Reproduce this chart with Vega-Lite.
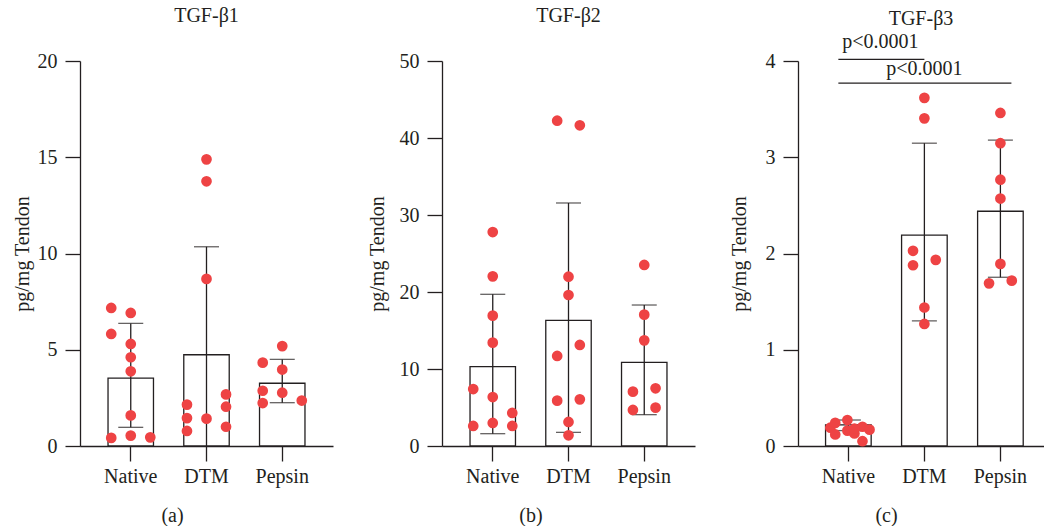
{
  "$schema": "https://vega.github.io/schema/vega-lite/v6.json",
  "background": "white",
  "padding": {"left": 12, "top": 6, "right": 0, "bottom": 0},
  "spacing": 34,
  "config": {
    "font": "Liberation Serif",
    "view": {"stroke": null},
    "axis": {
      "domainColor": "#231f20", "tickColor": "#231f20", "labelColor": "#231f20", "titleColor": "#231f20",
      "labelFont": "Liberation Serif", "titleFont": "Liberation Serif",
      "labelFontSize": 20, "titleFontSize": 20, "titleFontWeight": "normal",
      "tickSize": 15, "domainWidth": 1.3, "tickWidth": 1.3, "grid": false
    },
    "title": {"font": "Liberation Serif", "fontSize": 20, "fontWeight": "normal", "color": "#231f20"}
  },
  "datasets": {
    "summary": [
      {"panel": "a", "group": "Native", "mean": 3.53, "lo": 0.97, "hi": 6.37},
      {"panel": "a", "group": "DTM", "mean": 4.74, "lo": -0.87, "hi": 10.35},
      {"panel": "a", "group": "Pepsin", "mean": 3.26, "lo": 2.25, "hi": 4.5},
      {"panel": "b", "group": "Native", "mean": 10.3, "lo": 1.6, "hi": 19.7},
      {"panel": "b", "group": "DTM", "mean": 16.32, "lo": 1.77, "hi": 31.56},
      {"panel": "b", "group": "Pepsin", "mean": 10.87, "lo": 4.07, "hi": 18.31},
      {"panel": "c", "group": "Native", "mean": 0.22, "lo": 0.16, "hi": 0.27},
      {"panel": "c", "group": "DTM", "mean": 2.19, "lo": 1.3, "hi": 3.146},
      {"panel": "c", "group": "Pepsin", "mean": 2.439, "lo": 1.753, "hi": 3.178}
    ],
    "points": [
      {"panel": "a", "group": "Native", "jitter": -1, "value": 7.17},
      {"panel": "a", "group": "Native", "jitter": 0, "value": 6.91},
      {"panel": "a", "group": "Native", "jitter": -1, "value": 5.82},
      {"panel": "a", "group": "Native", "jitter": 0, "value": 5.3},
      {"panel": "a", "group": "Native", "jitter": 0, "value": 4.61},
      {"panel": "a", "group": "Native", "jitter": 0, "value": 3.88},
      {"panel": "a", "group": "Native", "jitter": 0, "value": 1.59},
      {"panel": "a", "group": "Native", "jitter": -1, "value": 0.42},
      {"panel": "a", "group": "Native", "jitter": 0, "value": 0.54},
      {"panel": "a", "group": "Native", "jitter": 1, "value": 0.45},
      {"panel": "a", "group": "DTM", "jitter": 0, "value": 14.89},
      {"panel": "a", "group": "DTM", "jitter": 0, "value": 13.75},
      {"panel": "a", "group": "DTM", "jitter": 0, "value": 8.68},
      {"panel": "a", "group": "DTM", "jitter": -1, "value": 2.15},
      {"panel": "a", "group": "DTM", "jitter": 1, "value": 2.68},
      {"panel": "a", "group": "DTM", "jitter": 1, "value": 2.04},
      {"panel": "a", "group": "DTM", "jitter": -1, "value": 1.45},
      {"panel": "a", "group": "DTM", "jitter": 0, "value": 1.42},
      {"panel": "a", "group": "DTM", "jitter": -1, "value": 0.78},
      {"panel": "a", "group": "DTM", "jitter": 1, "value": 1.0},
      {"panel": "a", "group": "Pepsin", "jitter": 0, "value": 5.19},
      {"panel": "a", "group": "Pepsin", "jitter": -1, "value": 4.33},
      {"panel": "a", "group": "Pepsin", "jitter": 0, "value": 3.97},
      {"panel": "a", "group": "Pepsin", "jitter": -1, "value": 2.87},
      {"panel": "a", "group": "Pepsin", "jitter": 0, "value": 2.77},
      {"panel": "a", "group": "Pepsin", "jitter": -1, "value": 2.23},
      {"panel": "a", "group": "Pepsin", "jitter": 1, "value": 2.36},
      {"panel": "b", "group": "Native", "jitter": 0, "value": 27.79},
      {"panel": "b", "group": "Native", "jitter": 0, "value": 22.03},
      {"panel": "b", "group": "Native", "jitter": 0, "value": 16.93},
      {"panel": "b", "group": "Native", "jitter": 0, "value": 13.42},
      {"panel": "b", "group": "Native", "jitter": -1, "value": 7.4},
      {"panel": "b", "group": "Native", "jitter": 0, "value": 6.36},
      {"panel": "b", "group": "Native", "jitter": 1, "value": 4.29},
      {"panel": "b", "group": "Native", "jitter": -1, "value": 2.6},
      {"panel": "b", "group": "Native", "jitter": 0, "value": 2.99},
      {"panel": "b", "group": "Native", "jitter": 1, "value": 2.6},
      {"panel": "b", "group": "DTM", "jitter": -0.58, "value": 42.25},
      {"panel": "b", "group": "DTM", "jitter": 0.58, "value": 41.65},
      {"panel": "b", "group": "DTM", "jitter": 0, "value": 21.99},
      {"panel": "b", "group": "DTM", "jitter": 0, "value": 19.61},
      {"panel": "b", "group": "DTM", "jitter": 0.58, "value": 13.12},
      {"panel": "b", "group": "DTM", "jitter": -0.58, "value": 11.69},
      {"panel": "b", "group": "DTM", "jitter": -0.58, "value": 5.89},
      {"panel": "b", "group": "DTM", "jitter": 0.58, "value": 6.06},
      {"panel": "b", "group": "DTM", "jitter": 0, "value": 3.12},
      {"panel": "b", "group": "DTM", "jitter": 0, "value": 1.39},
      {"panel": "b", "group": "Pepsin", "jitter": 0, "value": 23.51},
      {"panel": "b", "group": "Pepsin", "jitter": 0, "value": 17.06},
      {"panel": "b", "group": "Pepsin", "jitter": 0, "value": 13.72},
      {"panel": "b", "group": "Pepsin", "jitter": -0.58, "value": 7.06},
      {"panel": "b", "group": "Pepsin", "jitter": 0.58, "value": 7.49},
      {"panel": "b", "group": "Pepsin", "jitter": -0.58, "value": 4.68},
      {"panel": "b", "group": "Pepsin", "jitter": 0.58, "value": 4.98},
      {"panel": "c", "group": "Native", "jitter": -0.92, "value": 0.19},
      {"panel": "c", "group": "Native", "jitter": -0.67, "value": 0.24},
      {"panel": "c", "group": "Native", "jitter": -0.05, "value": 0.27},
      {"panel": "c", "group": "Native", "jitter": -0.67, "value": 0.12},
      {"panel": "c", "group": "Native", "jitter": -0.05, "value": 0.16},
      {"panel": "c", "group": "Native", "jitter": 0.31, "value": 0.13},
      {"panel": "c", "group": "Native", "jitter": 0.72, "value": 0.2},
      {"panel": "c", "group": "Native", "jitter": 1.08, "value": 0.17},
      {"panel": "c", "group": "Native", "jitter": 0.72, "value": 0.05},
      {"panel": "c", "group": "Native", "jitter": 0.31, "value": 0.18},
      {"panel": "c", "group": "DTM", "jitter": 0, "value": 3.617},
      {"panel": "c", "group": "DTM", "jitter": 0, "value": 3.404},
      {"panel": "c", "group": "DTM", "jitter": -0.58, "value": 2.028},
      {"panel": "c", "group": "DTM", "jitter": -0.58, "value": 1.878},
      {"panel": "c", "group": "DTM", "jitter": 0.58, "value": 1.934},
      {"panel": "c", "group": "DTM", "jitter": 0, "value": 1.439},
      {"panel": "c", "group": "DTM", "jitter": 0, "value": 1.268},
      {"panel": "c", "group": "Pepsin", "jitter": 0, "value": 3.46},
      {"panel": "c", "group": "Pepsin", "jitter": 0, "value": 3.146},
      {"panel": "c", "group": "Pepsin", "jitter": 0, "value": 2.767},
      {"panel": "c", "group": "Pepsin", "jitter": 0, "value": 2.571},
      {"panel": "c", "group": "Pepsin", "jitter": 0, "value": 1.892},
      {"panel": "c", "group": "Pepsin", "jitter": -0.58, "value": 1.69},
      {"panel": "c", "group": "Pepsin", "jitter": 0.58, "value": 1.718}
    ]
  },
  "hconcat": [
    {
      "title": {"text": "(a)", "orient": "bottom", "frame": "bounds", "anchor": "middle", "offset": 20},
      "vconcat": [
        {
          "title": {"text": "TGF-β1", "offset": 25},
          "width": 253, "height": 385,
          "resolve": {"scale": {"x": "independent", "xOffset": "independent"}},
          "layer": [
            {
              "data": {"name": "summary"}, "transform": [{"filter": "datum.panel == 'a'"}],
              "encoding": {
                "x": {"field": "group", "type": "nominal", "title": null,
                      "scale": {"domain": ["Native", "DTM", "Pepsin"], "paddingInner": 0.4, "paddingOuter": 0.37},
                      "axis": {"labelAngle": 0, "labelPadding": 5}}
              },
              "layer": [
                {"mark": {"type": "bar", "fill": "white", "stroke": "#231f20", "strokeWidth": 1.3},
                 "encoding": {"y": {"field": "mean", "type": "quantitative", "title": "pg/mg Tendon",
                                    "scale": {"domain": [0, 20]},
                                    "axis": {"values": [0, 5, 10, 15, 20], "format": "d", "labelPadding": 8, "titlePadding": 5}}}},
                {"mark": {"type": "rule", "color": "#231f20", "strokeWidth": 1.3, "clip": true},
                 "encoding": {"y": {"field": "lo", "type": "quantitative", "title": "pg/mg Tendon"}, "y2": {"field": "hi"}}},
                {"mark": {"type": "tick", "color": "#231f20", "thickness": 1.3, "size": 25, "clip": true},
                 "encoding": {"y": {"field": "hi", "type": "quantitative", "title": "pg/mg Tendon"}}},
                {"mark": {"type": "tick", "color": "#231f20", "thickness": 1.3, "size": 25, "clip": true},
                 "encoding": {"y": {"field": "lo", "type": "quantitative", "title": "pg/mg Tendon"}}}
              ]
            },
            {"data": {"name": "points"}, "transform": [{"filter": "datum.panel == 'a'"}],
             "mark": {"type": "circle", "color": "#ee4344", "opacity": 1, "size": 115},
             "encoding": {
               "x": {"field": "group", "type": "nominal", "axis": null,
                     "scale": {"domain": ["Native", "DTM", "Pepsin"], "paddingInner": 0.4, "paddingOuter": 0.37}},
               "y": {"field": "value", "type": "quantitative", "title": "pg/mg Tendon"},
               "xOffset": {"field": "jitter", "type": "quantitative", "scale": {"domain": [-1.164, 1.164]}}}}
          ]
        }
      ]
    },
    {
      "title": {"text": "(b)", "orient": "bottom", "frame": "bounds", "anchor": "middle", "offset": 20},
      "vconcat": [
        {
          "title": {"text": "TGF-β2", "offset": 25},
          "width": 253, "height": 385,
          "resolve": {"scale": {"x": "independent", "xOffset": "independent"}},
          "layer": [
            {
              "data": {"name": "summary"}, "transform": [{"filter": "datum.panel == 'b'"}],
              "encoding": {
                "x": {"field": "group", "type": "nominal", "title": null,
                      "scale": {"domain": ["Native", "DTM", "Pepsin"], "paddingInner": 0.4, "paddingOuter": 0.37},
                      "axis": {"labelAngle": 0, "labelPadding": 5}}
              },
              "layer": [
                {"mark": {"type": "bar", "fill": "white", "stroke": "#231f20", "strokeWidth": 1.3},
                 "encoding": {"y": {"field": "mean", "type": "quantitative", "title": "pg/mg Tendon",
                                    "scale": {"domain": [0, 50]},
                                    "axis": {"values": [0, 10, 20, 30, 40, 50], "format": "d", "labelPadding": 8, "titlePadding": 12}}}},
                {"mark": {"type": "rule", "color": "#231f20", "strokeWidth": 1.3, "clip": true},
                 "encoding": {"y": {"field": "lo", "type": "quantitative", "title": "pg/mg Tendon"}, "y2": {"field": "hi"}}},
                {"mark": {"type": "tick", "color": "#231f20", "thickness": 1.3, "size": 25, "clip": true},
                 "encoding": {"y": {"field": "hi", "type": "quantitative", "title": "pg/mg Tendon"}}},
                {"mark": {"type": "tick", "color": "#231f20", "thickness": 1.3, "size": 25, "clip": true},
                 "encoding": {"y": {"field": "lo", "type": "quantitative", "title": "pg/mg Tendon"}}}
              ]
            },
            {"data": {"name": "points"}, "transform": [{"filter": "datum.panel == 'b'"}],
             "mark": {"type": "circle", "color": "#ee4344", "opacity": 1, "size": 115},
             "encoding": {
               "x": {"field": "group", "type": "nominal", "axis": null,
                     "scale": {"domain": ["Native", "DTM", "Pepsin"], "paddingInner": 0.4, "paddingOuter": 0.37}},
               "y": {"field": "value", "type": "quantitative", "title": "pg/mg Tendon"},
               "xOffset": {"field": "jitter", "type": "quantitative", "scale": {"domain": [-1.164, 1.164]}}}}
          ]
        }
      ]
    },
    {
      "title": {"text": "(c)", "orient": "bottom", "frame": "bounds", "anchor": "middle", "offset": 20},
      "vconcat": [
        {
          "title": {"text": "TGF-β3", "offset": 3},
          "width": 246, "height": 385,
          "resolve": {"scale": {"x": "independent", "xOffset": "independent"}},
          "layer": [
            {
              "encoding": {
                "x": {"field": "group", "type": "nominal", "title": null,
                      "scale": {"domain": ["Native", "DTM", "Pepsin"], "paddingInner": 0.4, "paddingOuter": 0.318, "align": 0.57},
                      "axis": {"labelAngle": 0, "labelPadding": 5}}
              },
              "layer": [
                {"data": {"name": "summary"}, "transform": [{"filter": "datum.panel == 'c'"}],
                 "mark": {"type": "bar", "fill": "white", "stroke": "#231f20", "strokeWidth": 1.3},
                 "encoding": {"y": {"field": "mean", "type": "quantitative", "title": "pg/mg Tendon",
                                    "scale": {"domain": [0, 4]},
                                    "axis": {"values": [0, 1, 2, 3, 4], "format": "d", "labelPadding": 8, "titlePadding": 16}}}},
                {"data": {"name": "summary"}, "transform": [{"filter": "datum.panel == 'c'"}],
                 "mark": {"type": "rule", "color": "#231f20", "strokeWidth": 1.3, "clip": true},
                 "encoding": {"y": {"field": "lo", "type": "quantitative", "title": "pg/mg Tendon"}, "y2": {"field": "hi"}}},
                {"data": {"name": "summary"}, "transform": [{"filter": "datum.panel == 'c'"}],
                 "mark": {"type": "tick", "color": "#231f20", "thickness": 1.3, "size": 25, "clip": true},
                 "encoding": {"y": {"field": "hi", "type": "quantitative", "title": "pg/mg Tendon"}}},
                {"data": {"name": "summary"}, "transform": [{"filter": "datum.panel == 'c'"}],
                 "mark": {"type": "tick", "color": "#231f20", "thickness": 1.3, "size": 25, "clip": true},
                 "encoding": {"y": {"field": "lo", "type": "quantitative", "title": "pg/mg Tendon"}}},
                {"data": {"values": [{"group": "Native", "to": "DTM", "level": 4.017}]},
                 "mark": {"type": "rule", "color": "#231f20", "strokeWidth": 1.3, "xOffset": -10},
                 "encoding": {"x2": {"field": "to"}, "y": {"field": "level", "type": "quantitative", "title": "pg/mg Tendon"}}},
                {"data": {"values": [{"group": "Native", "to": "Pepsin", "level": 3.77}]},
                 "mark": {"type": "rule", "color": "#231f20", "strokeWidth": 1.3, "xOffset": -10, "x2Offset": 11},
                 "encoding": {"x2": {"field": "to"}, "y": {"field": "level", "type": "quantitative", "title": "pg/mg Tendon"}}},
                {"data": {"values": [{"group": "Native", "label": "p<0.0001", "level": 4.136}]},
                 "mark": {"type": "text", "color": "#231f20", "font": "Liberation Serif", "fontSize": 20, "baseline": "alphabetic", "dx": 32},
                 "encoding": {"text": {"field": "label"}, "y": {"field": "level", "type": "quantitative", "title": "pg/mg Tendon"}}},
                {"data": {"values": [{"group": "DTM", "label": "p<0.0001", "level": 3.85}]},
                 "mark": {"type": "text", "color": "#231f20", "font": "Liberation Serif", "fontSize": 20, "baseline": "alphabetic", "dx": 0},
                 "encoding": {"text": {"field": "label"}, "y": {"field": "level", "type": "quantitative", "title": "pg/mg Tendon"}}}
              ]
            },
            {"data": {"name": "points"}, "transform": [{"filter": "datum.panel == 'c'"}],
             "mark": {"type": "circle", "color": "#ee4344", "opacity": 1, "size": 115},
             "encoding": {
               "x": {"field": "group", "type": "nominal", "axis": null,
                     "scale": {"domain": ["Native", "DTM", "Pepsin"], "paddingInner": 0.4, "paddingOuter": 0.318, "align": 0.57}},
               "y": {"field": "value", "type": "quantitative", "title": "pg/mg Tendon"},
               "xOffset": {"field": "jitter", "type": "quantitative", "scale": {"domain": [-1.164, 1.164]}}}}
          ]
        }
      ]
    }
  ]
}
